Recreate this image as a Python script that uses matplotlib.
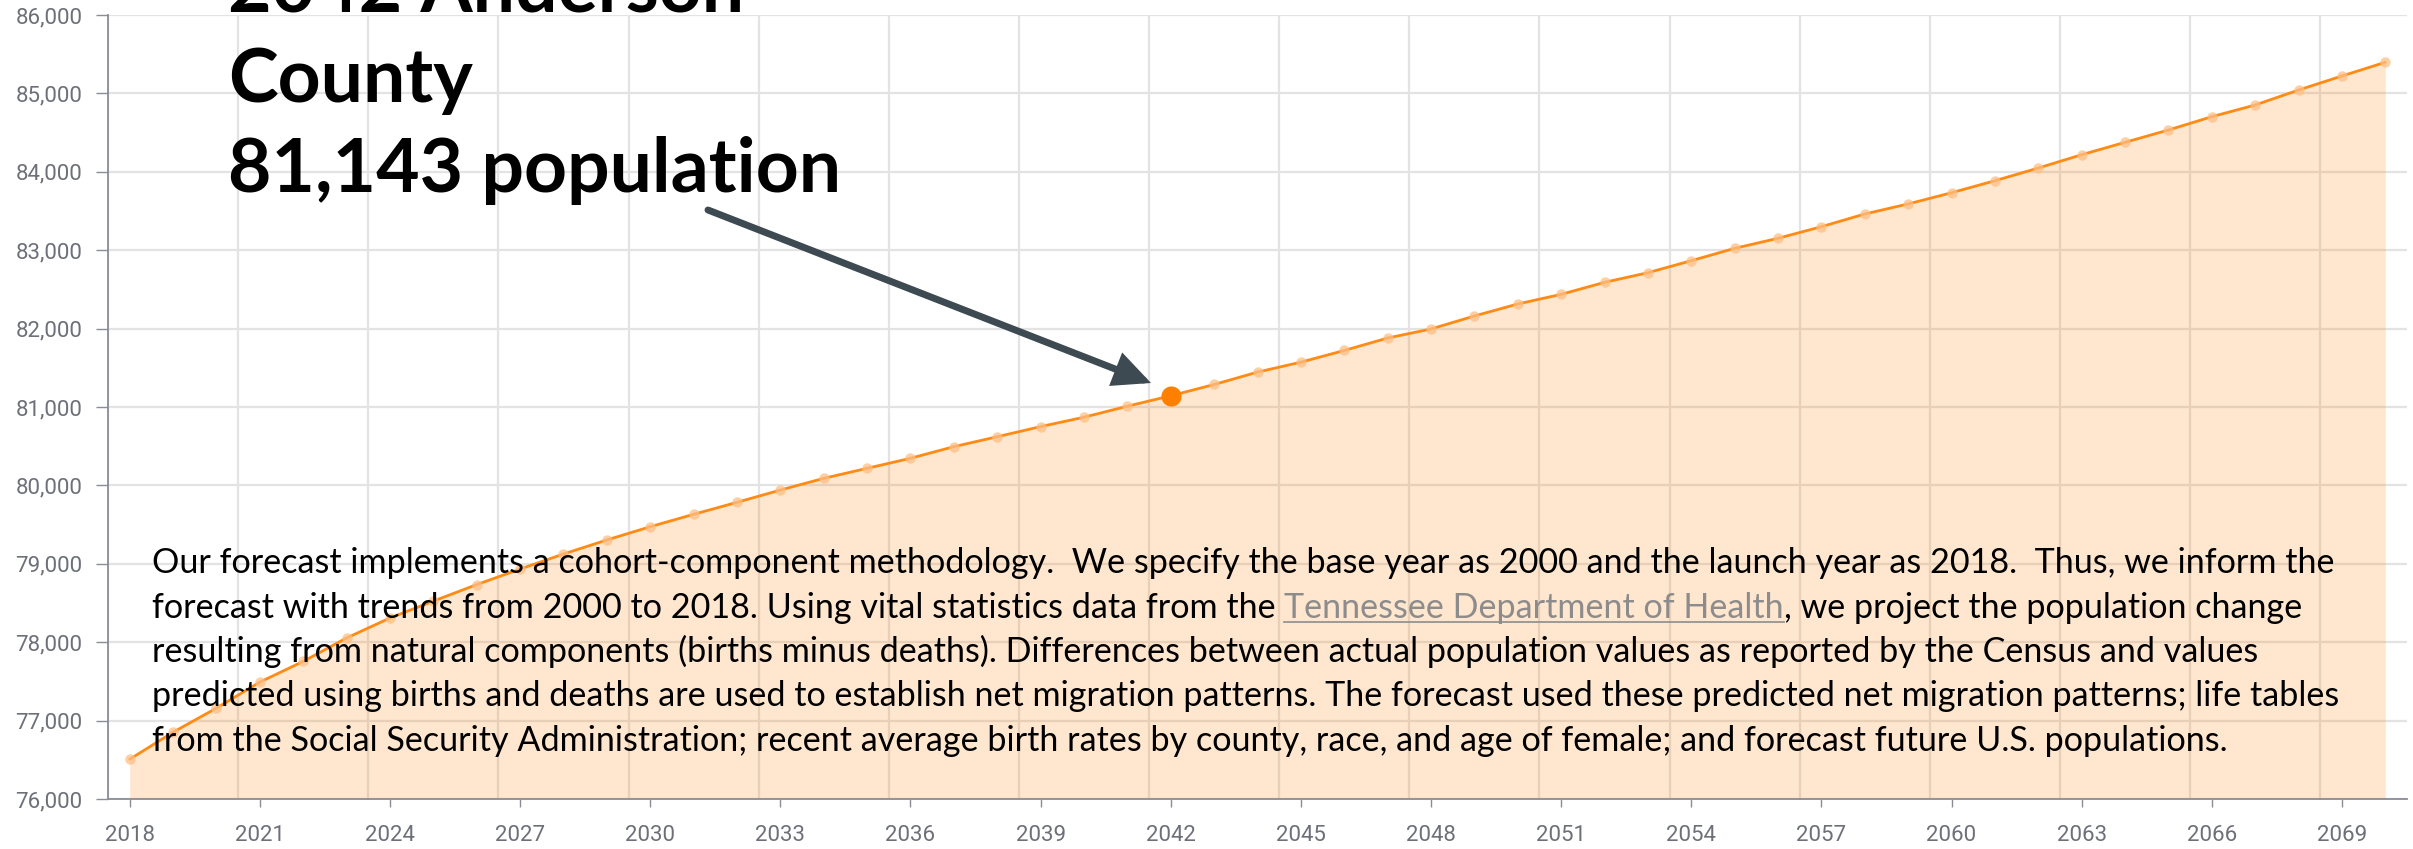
import matplotlib
matplotlib.use('Agg')
import matplotlib.pyplot as plt
from matplotlib.patches import FancyArrowPatch
from matplotlib.ticker import FixedLocator, FuncFormatter
from matplotlib.lines import Line2D

# ---------------- data ----------------
years = list(range(2018, 2071))
population = [
    76507, 76852, 77159, 77491, 77755, 78054, 78309, 78524, 78735, 78933,
    79125, 79304, 79473, 79631, 79784, 79941, 80090, 80218, 80346, 80494,
    80621, 80750, 80870, 81010, 81143, 81287, 81445, 81572, 81721, 81880,
    81995, 82161, 82314, 82437, 82590, 82713, 82866, 83024, 83152, 83300,
    83462, 83590, 83733, 83886, 84048, 84218, 84376, 84533, 84703, 84852,
    85043, 85222, 85397,
]
highlight_year = 2042
highlight_value = 81143
xtick_years = list(range(2018, 2070, 3))
ytick_values = list(range(76000, 86001, 1000))

title_lines = ["2042 Anderson", "County", "81,143 population"]
para_lines = [
    "Our forecast implements a cohort-component methodology.  We specify the base year as 2000 and the launch year as 2018.  Thus, we inform the",
    None,  # line with link
    "resulting from natural components (births minus deaths). Differences between actual population values as reported by the Census and values",
    "predicted using births and deaths are used to establish net migration patterns. The forecast used these predicted net migration patterns; life tables",
    "from the Social Security Administration; recent average birth rates by county, race, and age of female; and forecast future U.S. populations.",
]
line2_parts = ["forecast with trends from 2000 to 2018. Using vital statistics data from the ",
               "Tennessee Department of Health",
               ", we project the population change"]

# ---------------- figure ----------------
W, H = 2413, 849
fig = plt.figure(figsize=(W / 100, H / 100), dpi=100)
ax = fig.add_axes([108 / W, 1 - 799 / H, (2407 - 108) / W, (799 - 15) / H])

LINE = '#ff8a14'
AXC = '#8a8d96'
LBL = '#6E7079'
GRID = '#e3e3e3'

ax.fill_between(years, population, 76000, color='#ff8c1a', alpha=0.21, lw=0, zorder=2)
ax.plot(years, population, color=LINE, lw=2.0, zorder=3, solid_capstyle='round')
ax.plot(years, population, 'o', ms=7.5, color='#fdbf85', alpha=0.75, mec='none', zorder=4)
ax.plot([highlight_year], [highlight_value], 'o', ms=14.5, color='#ff8000', mec='none', zorder=5)

ax.set_xlim(2017.5, 2070.5)
ax.set_ylim(76000, 86000)
ax.set_xticks(xtick_years)
ax.set_xticklabels([str(y) for y in xtick_years])
ax.xaxis.set_minor_locator(FixedLocator([2017.5 + 3 * k for k in range(18)]))
ax.set_yticks(ytick_values)
ax.yaxis.set_major_formatter(FuncFormatter(lambda v, p: f"{int(v):,}"))

ax.grid(which='minor', axis='x', color=GRID, lw=1.6, zorder=0)
ax.grid(which='major', axis='y', color=GRID, lw=1.6, zorder=0)
ax.grid(which='major', axis='x', visible=False)
ax.set_axisbelow(True)

for s in ['top', 'right']:
    ax.spines[s].set_visible(False)
for s in ['left', 'bottom']:
    ax.spines[s].set_color(AXC)
    ax.spines[s].set_linewidth(1.3)

ax.tick_params(axis='x', which='major', length=6, width=1, color=AXC, pad=13,
               labelcolor=LBL, labelsize=16)
ax.tick_params(axis='x', which='minor', length=0)
ax.tick_params(axis='y', which='major', length=8.5, width=1, color=AXC, pad=10,
               labelcolor=LBL, labelsize=16)
for lab in ax.get_xticklabels() + ax.get_yticklabels():
    lab.set_fontfamily('Roboto')

renderer = fig.canvas.get_renderer()


def px(x, y):
    return x / W, 1 - y / H


def text_width(s, **kw):
    t1 = fig.text(0, 0, '|' + s + '|', **kw)
    t2 = fig.text(0, 0, '||', **kw)
    w = t1.get_window_extent(renderer).width - t2.get_window_extent(renderer).width
    t1.remove()
    t2.remove()
    return w


# ---------------- title ----------------
tfam = 'Lato'
base_fs = 52
w = text_width(title_lines[2], family=tfam, weight='bold', size=base_fs)
tfs = base_fs * 613 / w
for i, tl in enumerate(title_lines):
    fig.text(*px(228, 12 + 90 * i), tl, family=tfam, weight='bold', size=tfs,
             color='black', va='baseline', ha='left', zorder=10)

# ---------------- arrow ----------------
arrow = FancyArrowPatch(px(708, 210), px(1151, 383), transform=fig.transFigure,
                        arrowstyle='-|>,head_length=19,head_width=9', mutation_scale=1,
                        lw=5, color='#3d4a51', shrinkA=0, shrinkB=0, zorder=9,
                        capstyle='round', joinstyle='miter')
fig.add_artist(arrow)

# ---------------- paragraph ----------------
pfam = 'Lato'
pw = text_width(para_lines[0], family=pfam, size=25)
pfs = 25 * (2339 - 152) / pw
x0 = 152
for i, line in enumerate(para_lines):
    yb = 573 + 44.5 * i
    if line is not None:
        fig.text(*px(x0, yb), line, family=pfam, size=pfs, color='black',
                 va='baseline', ha='left', zorder=10)
    else:
        xcur = x0
        for j, part in enumerate(line2_parts):
            col = '#8c8c8c' if j == 1 else 'black'
            fig.text(*px(xcur, yb), part, family=pfam, size=pfs, color=col,
                     va='baseline', ha='left', zorder=10)
            pwid = text_width(part, family=pfam, size=pfs)
            if j == 1:
                fig.add_artist(Line2D([xcur / W, (xcur + pwid) / W],
                                      [1 - (yb + 4) / H, 1 - (yb + 4) / H],
                                      transform=fig.transFigure, color='#8c8c8c', lw=1.2, zorder=10))
            xcur += pwid

fig.savefig('out.png', dpi=100)
